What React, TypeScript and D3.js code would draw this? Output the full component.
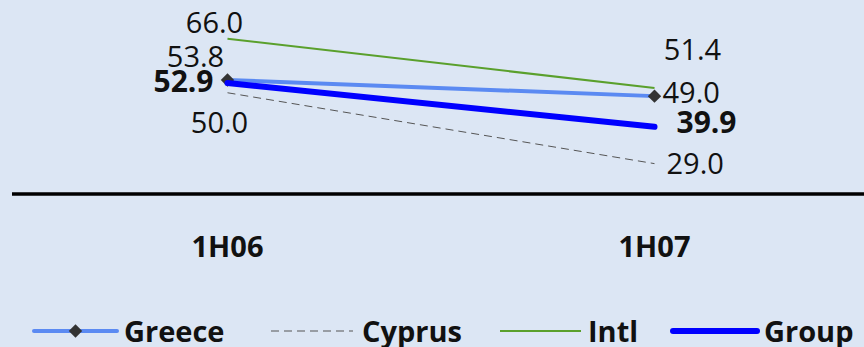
import React from "react";
import * as d3 from "d3";

const categories = ["1H06", "1H07"];
const greece = [53.8, 49.0];
const cyprus = [50.0, 29.0];
const intl = [66.0, 51.4];
const group = [52.9, 39.9];

type SeriesDef = {
  name: string;
  values: number[];
  color: string;
  width: number;
  dash?: string;
  marker?: boolean;
  bold?: boolean;
};

const series: SeriesDef[] = [
  { name: "Greece", values: greece, color: "#5b8af2", width: 4, marker: true },
  { name: "Cyprus", values: cyprus, color: "#555555", width: 1, dash: "8,5" },
  { name: "Intl", values: intl, color: "#5aa02c", width: 2 },
  { name: "Group", values: group, color: "#0000ff", width: 6, bold: true },
];

// label placement offsets (px) relative to each point: [dx, dy, anchor]
const labelOffsets: Record<string, [number, number, string][]> = {
  Greece: [[-32, -13, "middle"], [8, 7, "start"]],
  Cyprus: [[-8, 40, "middle"], [12, 10, "start"]],
  Intl: [[-13, -6, "middle"], [38, -28, "middle"]],
  Group: [[-14, 9, "end"], [22, 6, "start"]],
};

const legendPos = [
  { x1: 34, x2: 117, tx: 124 },
  { x1: 271, x2: 353, tx: 362 },
  { x1: 500, x2: 581, tx: 588 },
  { x1: 673, x2: 757, tx: 764 },
];

const W = 864;
const H = 347;
const FONT = "'Open Sans', sans-serif";

export default function App() {
  const x = d3.scaleBand<string>().domain(categories).range([14, 868]);
  const y = d3.scaleLinear().domain([20, 80]).range([194, -8.5]);
  const cx = (c: string) => (x(c) as number) + x.bandwidth() / 2;

  const line = d3
    .line<number>()
    .x((_, i) => cx(categories[i]))
    .y((v) => y(v));

  const diamond = d3.symbol(d3.symbolSquare, 90)() as string;
  const drawOrder = ["Cyprus", "Intl", "Greece", "Group"];

  return (
    <svg
      width={W}
      height={H}
      style={{ position: "absolute", left: 0, top: 0, background: "#dce6f4" }}
    >
      <rect x={0} y={0} width={W} height={H} fill="#dce6f4" />
      {/* axis line */}
      <line x1={12} x2={870} y1={y(20)} y2={y(20)} stroke="#000" strokeWidth={3.5} />
      {categories.map((c) => (
        <text
          key={c}
          x={cx(c)}
          y={257}
          textAnchor="middle"
          fontFamily={FONT}
          fontWeight="bold"
          fontSize={29}
          fill="#111"
        >
          {c}
        </text>
      ))}
      {drawOrder.map((n) => {
        const s = series.find((d) => d.name === n)!;
        return (
          <g key={n}>
            <path
              d={line(s.values) as string}
              fill="none"
              stroke={s.color}
              strokeWidth={s.width}
              strokeDasharray={s.dash}
              strokeLinecap={s.width > 3 ? "round" : "butt"}
            />
            {s.marker &&
              s.values.map((v, i) => (
                <path
                  key={i}
                  d={diamond}
                  transform={`translate(${cx(categories[i])},${y(v)}) rotate(45)`}
                  fill="#333"
                />
              ))}
          </g>
        );
      })}
      {series.map((s) =>
        s.values.map((v, i) => {
          const [dx, dy, anchor] = labelOffsets[s.name][i];
          return (
            <text
              key={s.name + i}
              x={cx(categories[i]) + dx}
              y={y(v) + dy}
              textAnchor={anchor as any}
              fontFamily={FONT}
              fontWeight={s.bold ? "bold" : "normal"}
              fontSize={s.bold ? 30 : 29}
              fill="#111"
            >
              {v.toFixed(1)}
            </text>
          );
        })
      )}
      {/* legend */}
      {series.map((s, i) => {
        const p = legendPos[i];
        const ly = 331;
        return (
          <g key={s.name}>
            <line
              x1={p.x1}
              x2={p.x2}
              y1={ly}
              y2={ly}
              stroke={s.color}
              strokeWidth={s.width}
              strokeDasharray={s.dash}
              strokeLinecap={s.width > 3 ? "round" : "butt"}
            />
            {s.marker && (
              <path
                d={diamond}
                transform={`translate(${(p.x1 + p.x2) / 2},${ly}) rotate(45)`}
                fill="#333"
              />
            )}
            <text
              x={p.tx}
              y={342}
              fontFamily={FONT}
              fontWeight="bold"
              fontSize={29}
              fill="#111"
            >
              {s.name}
            </text>
          </g>
        );
      })}
    </svg>
  );
}
